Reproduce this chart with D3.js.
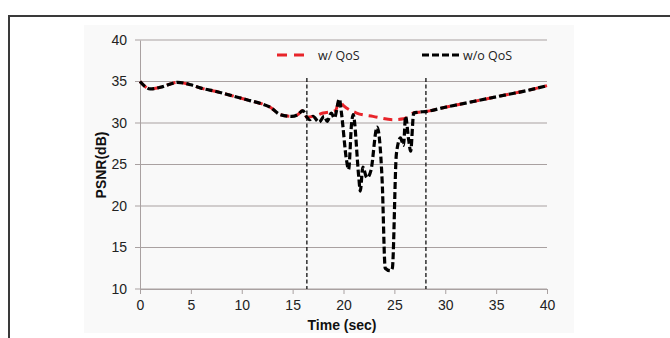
<!DOCTYPE html>
<html>
<head>
    <meta charset="utf-8">
    <title>PSNR vs time</title>
    <script src="https://cdn.jsdelivr.net/npm/d3@7/dist/d3.min.js"></script>
    <style>
        html, body {
            width: 670px;
            height: 338px;
            margin: 0;
            padding: 0;
            background: #fff;
        }
        svg { display: block; }
    </style>
</head>
<body>
<svg class="main" width="670" height="338"></svg>
<script>
    // data
    var qosTime = [0, 0.5, 1, 2, 3, 3.7, 5, 6, 7.5, 9, 10.8, 12, 12.8, 13.8, 14.9, 15.5, 16.0, 16.4,
        17.0, 18.0, 19.2, 19.6, 20.0, 21.3, 22.9, 24.9, 25.9, 26.9, 28.2, 30, 32, 34, 36, 38, 40];
    var qosPsnr = [35, 34.4, 34.1, 34.3, 34.7, 34.9, 34.6, 34.2, 33.8, 33.3, 32.7, 32.3, 31.9, 31.0, 30.8, 31.0, 31.5, 30.7,
        30.8, 31.2, 31.5, 32.6, 32.1, 31.2, 30.8, 30.4, 30.5, 31.2, 31.4, 31.9, 32.4, 32.9, 33.4, 33.9, 34.5];

    var noQosTime = [0, 0.5, 1, 2, 3, 3.7, 5, 6, 7.5, 9, 10.8, 12, 12.8, 13.8, 14.9, 15.5, 16.0, 16.4,
        16.7, 17.0, 17.6, 18.1, 18.4, 18.8, 19.1, 19.6, 19.8, 20.3, 20.5, 20.8, 20.95, 21.5, 21.65, 21.9,
        22.3, 22.7, 23.3, 23.8, 24.1, 24.6, 24.8, 25.2, 25.6, 25.9, 26.1, 26.4, 26.6, 26.9, 27.3,
        28.2, 30, 32, 34, 36, 38, 40];
    var noQosPsnr = [35, 34.4, 34.1, 34.3, 34.7, 34.9, 34.6, 34.2, 33.8, 33.3, 32.7, 32.3, 31.9, 31.0, 30.8, 31.0, 31.5, 30.7,
        30.4, 30.8, 30.1, 30.8, 30.2, 31.2, 30.6, 32.9, 31.2, 25.5, 24.4, 30.0, 31.0, 23.5, 21.8, 24.7,
        23.4, 24.3, 29.5, 23.0, 12.5, 12.2, 12.5, 26.3, 28.2, 27.3, 30.8, 28.0, 26.6, 31.2, 31.3,
        31.4, 31.9, 32.4, 32.9, 33.4, 33.9, 34.5];

    var markerTimes = [16.4, 28.1];
    var xTicks = [0, 5, 10, 15, 20, 25, 30, 35, 40];
    var yTicks = [10, 15, 20, 25, 30, 35, 40];
    var seriesNames = ["w/ QoS", "w/o QoS"];

    var svg = d3.select("svg");

    // outer frame
    svg.append("rect")
        .attr("x", 84).attr("y", 25).attr("width", 490).attr("height", 308)
        .attr("fill", "#f9f9f9");
    svg.append("path")
        .attr("d", "M9,338V16H670")
        .attr("fill", "none")
        .attr("stroke", "#3a3a3a")
        .attr("stroke-width", 2);

    var x = d3.scaleLinear().domain([0, 40]).range([140, 547]);
    var y = d3.scaleLinear().domain([10, 40]).range([289, 40]);

    // gridlines
    svg.append("g").selectAll("line")
        .data(yTicks)
        .enter()
        .append("line")
        .attr("x1", x(0) - 5).attr("x2", x(40))
        .attr("y1", function (d) { return y(d); })
        .attr("y2", function (d) { return y(d); })
        .attr("stroke", "#a9a1a1")
        .attr("stroke-width", 1);

    // y axis
    var yAxis = svg.append("g")
        .attr("transform", "translate(" + x(0) + ",0)")
        .call(d3.axisLeft(y).tickValues(yTicks).tickSize(0).tickPadding(13));
    yAxis.select(".domain").attr("stroke", "#a9a1a1");
    yAxis.selectAll("text")
        .style("font-family", "Liberation Sans, Arial, sans-serif")
        .style("font-size", "14px")
        .attr("fill", "#222");

    // x axis
    var xAxis = svg.append("g")
        .attr("transform", "translate(0," + y(10) + ")")
        .call(d3.axisBottom(x).tickValues(xTicks).tickSize(5).tickPadding(6));
    xAxis.select(".domain").attr("stroke", "#a9a1a1");
    xAxis.selectAll(".tick line").attr("stroke", "#a9a1a1");
    xAxis.selectAll("text")
        .style("font-family", "Liberation Sans, Arial, sans-serif")
        .style("font-size", "14px")
        .attr("fill", "#222");

    // vertical markers
    svg.append("g").selectAll("line")
        .data(markerTimes)
        .enter()
        .append("line")
        .attr("x1", function (d) { return x(d); })
        .attr("x2", function (d) { return x(d); })
        .attr("y1", 78).attr("y2", y(10))
        .attr("stroke", "#111")
        .attr("stroke-width", 1.3)
        .attr("stroke-dasharray", "4,2.5");

    var line = d3.line()
        .x(function (d) { return x(d[0]); })
        .y(function (d) { return y(d[1]); })
        .curve(d3.curveMonotoneX);

    var qos = d3.zip(qosTime, qosPsnr);
    var noQos = d3.zip(noQosTime, noQosPsnr);

    svg.append("path")
        .datum(qos)
        .attr("fill", "none")
        .attr("stroke", "#e8242a")
        .attr("stroke-width", 3)
        .attr("stroke-dasharray", "9,6")
        .attr("d", line);

    svg.append("path")
        .datum(noQos)
        .attr("fill", "none")
        .attr("stroke", "#000")
        .attr("stroke-width", 3.2)
        .attr("stroke-dasharray", "7,3")
        .attr("d", line);

    // legend
    var legend = svg.append("g");
    legend.append("line")
        .attr("x1", 277).attr("x2", 308).attr("y1", 55).attr("y2", 55)
        .attr("stroke", "#e8242a").attr("stroke-width", 3)
        .attr("stroke-dasharray", "10,7");
    legend.append("text")
        .attr("x", 318).attr("y", 60)
        .style("font-family", "Open Sans, sans-serif")
        .style("font-size", "12.5px")
        .attr("fill", "#222")
        .text(seriesNames[0]);
    legend.append("line")
        .attr("x1", 422).attr("x2", 461).attr("y1", 55).attr("y2", 55)
        .attr("stroke", "#000").attr("stroke-width", 3)
        .attr("stroke-dasharray", "7,3");
    legend.append("text")
        .attr("x", 463).attr("y", 60)
        .style("font-family", "Open Sans, sans-serif")
        .style("font-size", "12.5px")
        .attr("fill", "#222")
        .text(seriesNames[1]);

    // axis titles
    svg.append("text")
        .attr("transform", "translate(106,165) rotate(-90)")
        .attr("text-anchor", "middle")
        .style("font-family", "Liberation Sans, Arial, sans-serif")
        .style("font-size", "14px")
        .style("font-weight", "bold")
        .attr("fill", "#111")
        .text("PSNR(dB)");

    svg.append("text")
        .attr("x", 342).attr("y", 330)
        .attr("text-anchor", "middle")
        .style("font-family", "Liberation Sans, Arial, sans-serif")
        .style("font-size", "14px")
        .style("font-weight", "bold")
        .attr("fill", "#111")
        .text("Time (sec)");
</script>
</body>
</html>
